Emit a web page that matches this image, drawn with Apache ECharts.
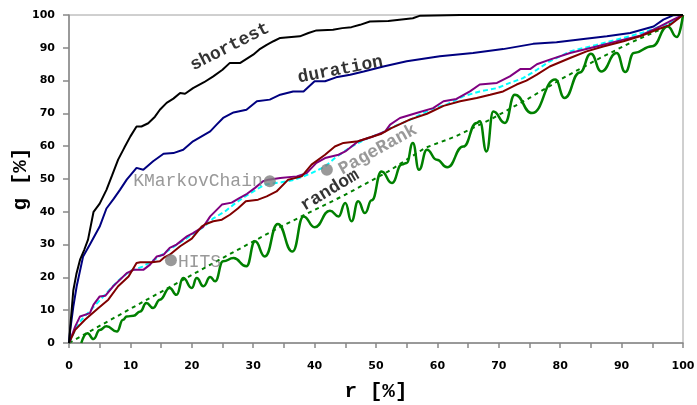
<!DOCTYPE html>
<html><head><meta charset="utf-8">
<script src="https://cdn.jsdelivr.net/npm/echarts@6/dist/echarts.min.js"></script>
<style>html,body{margin:0;padding:0;background:#fff}#c{width:697px;height:405px}</style>
</head><body><div id="c"></div>
<script>
const xTicks = [0,10,20,30,40,50,60,70,80,90,100];
const yTicks = [0,10,20,30,40,50,60,70,80,90,100];

const shortest = [[0,0],[0.3,7],[0.7,16],[1.2,21],[1.8,25.4],[2.5,28.5],[3.1,31.5],[4,40],[5,42.5],[6.1,46.7],[7,51],[8,55.9],[9,59.5],[10,63],[11,66],[11.8,66],[12.9,67],[14,69],[14.8,71.1],[15.9,73.2],[17,74.5],[18.1,76.2],[18.9,76],[20.2,77.7],[22,79.5],[23.5,81.3],[25,83.3],[26.2,85.4],[27.9,85.4],[30,87.9],[31,89.5],[32.2,90.9],[33.3,92],[34.4,93],[37.6,93.5],[39,94.5],[40.3,95.3],[43,95.5],[44.5,96],[46,96.3],[47.4,97],[49,98],[52,98.2],[56,99],[57.2,99.8],[63.7,100],[100,100]];

const duration = [[0,0],[0.2,4],[0.7,11],[1.25,17.3],[2.3,26.4],[3.4,30],[5,35.5],[6.1,41],[7.3,44],[8.3,46.7],[9.4,49.8],[11,53.4],[12.1,52.8],[13.7,55.4],[15.4,57.7],[17,57.9],[18.6,58.9],[20.2,61.5],[23,64.5],[24,66.5],[25.1,68.6],[26.8,70.3],[28.9,71.1],[30.6,73.7],[32.7,74.2],[34.4,75.7],[36.5,76.7],[38.2,76.7],[40,79.8],[41.7,79.8],[43.5,81],[45.8,81.8],[48,82.8],[51.2,84.3],[55,85.9],[60.4,87.4],[65.8,88.4],[70.7,89.6],[75.6,91.2],[79.4,91.7],[83.8,92.7],[87.6,93.5],[91.4,94.5],[95.2,96.5],[96.8,98.6],[98.4,99.9],[100,100]];

const kMarkovChain = [[0,0],[1,5],[1.8,8.1],[3.4,9.1],[4,11.7],[5,14.2],[5.9,14.4],[7.2,17.3],[9.4,21.3],[10.5,22.3],[12.1,22.3],[13.2,23.9],[14.3,26.4],[15.4,26.9],[16.4,29],[17.5,30],[19.2,32.5],[20.2,33.5],[21.9,35.5],[23,38.6],[24.9,42.2],[26.5,42.8],[27.6,44],[29,45.5],[30.3,47.3],[31.6,49.3],[32.5,49.8],[34.4,50.3],[37.1,50.8],[38.7,51.8],[40.3,54.9],[41.7,56.4],[43.9,57.4],[45,58.4],[47.1,61.5],[49.3,62.8],[51.5,64.5],[52.3,66.6],[53.9,68.6],[56.6,70.1],[59.3,71.6],[61,73.7],[63.1,74.4],[65.3,76.7],[66.9,78.8],[69.7,79.3],[71.8,81.3],[73.5,83.5],[75.1,83.5],[76.2,85],[78.3,86.4],[81.6,88.4],[85.9,90.4],[90.3,92.5],[93,93.7],[95.7,96],[98.4,98.6],[100,100]];

const pageRank = [[0,0],[1,4],[2,7],[3.5,10],[5,13],[6.5,16],[8,19],[10,22],[12,23.3],[14,25.5],[16,28],[18,30.5],[20,33],[22,35.5],[23.5,38],[25.4,40.1],[27,42.5],[28.7,44.7],[30.3,46.5],[31.9,48.3],[34.6,49],[36.8,49.8],[39.5,51.8],[41.7,53.8],[43.3,56.4],[46,59.9],[48.7,62.5],[50.9,64],[52.3,65.5],[55.5,68],[58.8,71.1],[61.5,72.7],[64.2,75.2],[66.9,76.7],[69.7,77.7],[71.8,79.3],[74,80.8],[76.2,83.3],[78.3,85.9],[81.6,88.9],[85.9,90.9],[90.3,93],[94.1,95],[97.9,97.6],[100,100]];

const hits = [[0,0],[1,4],[2.6,7.1],[4.8,10.7],[6.4,13.2],[8,17.3],[9.7,20.3],[11,24.4],[11.6,24.6],[13.5,24.6],[14.8,24.9],[15.6,26.2],[16.4,26.9],[18.1,29.5],[20,31.8],[21.6,35.5],[22.2,36.2],[23.5,37.1],[24.9,37.6],[26.2,39.1],[27.5,41],[28.8,43.2],[30.8,43.7],[32.2,44.7],[33.8,46.2],[35.7,49.8],[37.9,50.8],[39.5,54.4],[41.7,57.4],[43.3,59.9],[44.7,61],[47.1,61.5],[48.7,62.5],[50.9,63.8],[52.5,65.5],[55.5,68.1],[58.3,69.9],[61,72.3],[63.7,73.7],[66.4,74.7],[68.6,75.7],[70.7,76.7],[72.9,78.8],[74.5,80],[76.2,81.8],[78.3,84.3],[81.6,86.9],[84.3,88.9],[87,90.4],[90.3,92],[93,93.5],[95.7,95.5],[97.9,97],[100,100]];

const randomActual = [[2,0],[3,3],[4,1.2],[5,4],[6.1,5.1],[7.8,3.5],[8.8,7.1],[9.4,8.1],[10.5,8.3],[11.6,9.6],[12.6,12.2],[13.7,10.7],[14.8,13.2],[16.4,16.8],[17.5,14.7],[18.6,19.8],[20,16.8],[20.8,19.8],[21.9,17.3],[23,20.1],[23.8,18.8],[25.1,24.9],[26.8,25.9],[28.9,23.4],[30.3,31],[31.9,26.4],[34,36.3],[36.4,27.9],[38.2,38.6],[40,35.3],[42.5,40.3],[43.9,38.6],[45,42.7],[46,37.1],[47.1,43.2],[48.2,39.6],[49.3,43.5],[50.9,52.3],[52.6,48.8],[54.2,54.4],[55,54.9],[56,61],[57,52.8],[58.3,58.9],[59.9,55.9],[61.6,53.6],[64.2,59.9],[66.4,67.1],[66.9,67.6],[68,58.4],[69.1,70.6],[71,67.1],[72.6,75.7],[75.4,70.1],[79.2,80.3],[80.7,74.7],[83.2,82.5],[85,88.2],[86.7,82.8],[89.2,88.4],[90.6,82.6],[92,88.4],[95,90.5],[97.5,96.5],[99,93.3],[100,100]];

const randomExpected = [[0,0],[12,12.5],[25,25.9],[34,35],[45,45.2],[52,52.3],[58,59.5],[63,63],[68.6,68.1],[75,74.7],[80.5,80.8],[86,86.4],[91.4,91.5],[96.8,96],[100,100]];

const curveLabels = [
  {name:'shortest', pos:[26.2,90.3], rot:27},
  {name:'duration', pos:[44.2,83.3], rot:11},
  {name:'random', pos:[42.5,46.5], rot:31}
];
const pageRankLabel = {name:'PageRank', pos:[50.3,58.9], rot:29};
const dots = [
  {name:'KMarkovChain', pos:[32.7,49.3], side:'left'},
  {name:'PageRank', pos:[42,52.8], side:'none'},
  {name:'HITS', pos:[16.6,25.2], side:'right'}
];

const mono = 'Liberation Mono, Courier New, monospace';
const chart = echarts.init(document.getElementById('c'), null, {renderer:'canvas'});
function line(data, color, width, type, smooth){
  return {type:'line', data, symbol:'none', smooth: smooth||false, smoothMonotone: smooth ? 'x' : undefined, z:2,
    lineStyle:{color, width, type: type||'solid'}, silent:true, animation:false};
}
chart.setOption({
  animation:false,
  grid:{left:69, right:14, top:15, bottom:62, outerBoundsMode:'none', containLabel:false,
    show:true, borderColor:'#a0a0a0', borderWidth:1, backgroundColor:'transparent'},
  xAxis:{type:'value', min:0, max:100, interval:5,
    name:'r [%]', nameLocation:'middle', nameGap:38, nameMoveOverlap:false,
    nameTextStyle:{fontFamily:mono, fontWeight:'bold', fontSize:21, color:'#000'},
    axisLine:{lineStyle:{color:'#888', width:1.5}},
    axisTick:{show:true, inside:false, length:5, lineStyle:{color:'#888', width:1.5}},
    splitLine:{show:false},
    axisLabel:{margin:18, fontFamily:'DejaVu Sans', fontWeight:'bold', fontSize:11, color:'#000',
      formatter:v=> xTicks.includes(v) ? String(v) : ''}},
  yAxis:{type:'value', min:0, max:100, interval:10,
    name:'g [%]', nameLocation:'middle', nameGap:38, nameRotate:90, nameMoveOverlap:false,
    nameTextStyle:{fontFamily:mono, fontWeight:'bold', fontSize:21, color:'#000'},
    axisLine:{show:true, lineStyle:{color:'#888', width:1.5}},
    axisTick:{show:true, length:6, lineStyle:{color:'#888', width:1.5}},
    splitLine:{show:false},
    axisLabel:{margin:14, fontFamily:'DejaVu Sans', fontWeight:'bold', fontSize:11, color:'#000',
      formatter:v=> yTicks.includes(v) ? String(v) : ''}},
  series:[
    line(randomExpected, '#008000', 2, [4,4]),
    line(randomActual, '#008000', 2.5, 'solid', 0.5),
    line(pageRank, '#00ffff', 2, [5,3]),
    line(kMarkovChain, '#800080', 2),
    line(hits, '#800000', 2),
    line(duration, '#000080', 2),
    line(shortest, '#000000', 2),
    {type:'scatter', symbolSize:0, z:5, silent:true,
      data: curveLabels.concat([pageRankLabel]).map(d=>({value:d.pos, name:d.name,
        label:{show:true, position:'inside', rotate:d.rot, formatter:d.name,
          fontFamily:mono, fontWeight:'bold', fontSize:18,
          color: d.name==='PageRank' ? '#808080' : '#000'}}))},
    {type:'scatter', symbol:'circle', symbolSize:12, z:6, silent:true,
      itemStyle:{color:'#808080'},
      data: dots.map(d=>({value:d.pos, name:d.name,
        label:{show:d.side!=='none', position:d.side==='none'?'left':d.side, distance:1,
          offset: d.name==='HITS' ? [0,2] : [0,0],
          formatter:d.name, fontFamily:mono, fontSize:18, color:'#808080'}}))}
  ]
});
</script></body></html>
